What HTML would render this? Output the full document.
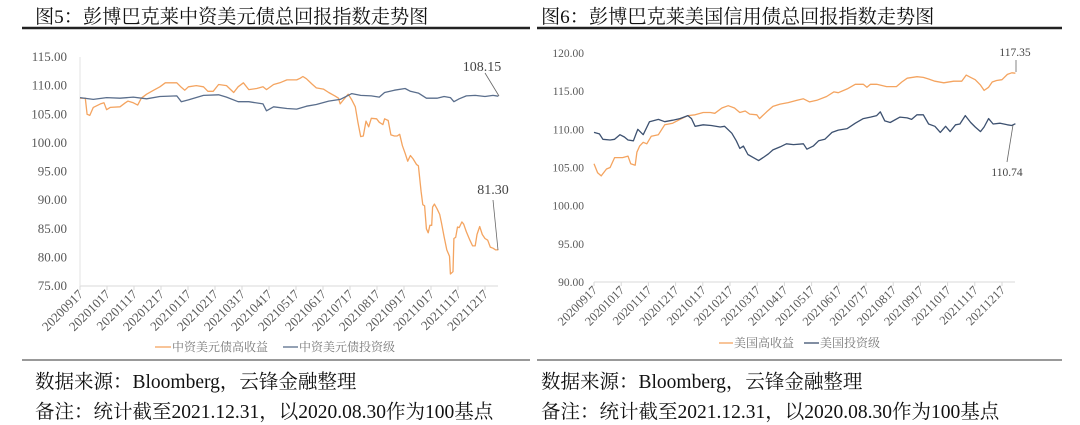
<!DOCTYPE html>
<html><head><meta charset="utf-8">
<style>
html,body{margin:0;padding:0;background:#fff;}
body{width:1080px;height:425px;overflow:hidden;position:relative;font-family:"Liberation Serif","Noto Serif CJK SC",serif;}
.t{position:absolute;font-size:19.5px;color:#111;white-space:nowrap;}
.h{font-size:19.2px;}
svg{position:absolute;left:0;top:0;}
</style></head>
<body>
<div class="t h" style="left:35px;top:2px;">图5：彭博巴克莱中资美元债总回报指数走势图</div>
<div class="t h" style="left:541px;top:2px;">图6：彭博巴克莱美国信用债总回报指数走势图</div>
<div class="t" style="left:35px;top:366px;">数据来源：Bloomberg，云锋金融整理</div>
<div class="t" style="left:35px;top:396px;">备注：统计截至2021.12.31，以2020.08.30作为100基点</div>
<div class="t" style="left:541px;top:366px;">数据来源：Bloomberg，云锋金融整理</div>
<div class="t" style="left:541px;top:396px;">备注：统计截至2021.12.31，以2020.08.30作为100基点</div>
<svg id="s" width="1080" height="425"></svg>
<script>
const tickLabels=["20200917","20201017","20201117","20201217","20210117","20210217","20210317","20210417","20210517","20210617","20210717","20210817","20210917","20211017","20211117","20211217"];
const c1Ticks=[75,80,85,90,95,100,105,110,115];
const c2Ticks=[90,95,100,105,110,115,120];
const cnHyDays=[0,6,8,11,15,23,27,30,34,45,51,54,60,65,69,75,83,90,96,109,114,118,122,131,139,144,150,156,165,173,178,184,190,199,206,210,218,225,233,244,248,251,255,261,266,274,280,287,291,293,296,302,306,310,313,316,319,322,325,328,334,337,341,343,347,350,354,357,360,363,366,369,372,375,379,381,384,386,388,390,392,394,396,397,399,402,405,407,410,413,416,417,420,421,423,425,427,430,432,435,439,442,445,447,450,453,456,459,462,465,468,471];
const cnHyVals=[107.8,107.8,105,104.8,106.2,106.8,107,105.8,106.2,106.3,107,107.3,107,106.6,107.8,108.5,109.2,109.8,110.5,110.5,109.7,109.2,109.8,110,109.8,109,109,110.2,110,108.8,109.8,110.5,109.3,109.5,109.8,109.3,110.2,110.5,111,111,111.3,111.6,111.2,110.3,109.6,109.4,108.8,108.2,107.8,106.8,107.4,108.5,107.5,106.3,103.5,101.1,101.2,103.8,102.8,104.3,104.2,103.6,103.2,104.2,103.9,101.4,101.2,101.2,101.5,99.5,98.2,96.8,97.8,97.2,96.2,96,91.5,89.2,89,85,84.3,85.6,85.6,88.8,89.3,88.5,87.5,86,83.6,81.3,80.2,77.1,77.5,83.3,83.5,85.3,85.2,86.2,85.8,84.5,83,82,82,84,85.4,84,83.3,83,81.8,81.6,81.3,81.3];
const cnIgDays=[0,15,30,45,60,75,90,109,114,122,139,156,165,178,190,206,210,218,233,244,255,266,280,293,306,316,328,337,343,354,366,372,381,390,402,410,417,421,427,435,445,456,465,471];
const cnIgVals=[107.9,107.6,107.9,107.8,108,107.7,108.1,108.2,107.2,107.5,108.3,108.4,108,107.2,107.2,106.8,105.6,106.3,106,105.9,106.4,106.7,107.3,107.6,108.6,108.3,108.2,108,108.8,109.2,109.5,109,108.7,107.8,107.8,108.1,107.9,107.2,107.7,108.2,108.3,108.1,108.3,108.15];
const usHyDays=[0,4,8,14,18,23,32,38,41,46,48,51,55,59,64,72,79,88,96,105,113,122,130,135,143,150,157,163,169,174,182,185,193,200,208,217,227,234,241,249,260,268,273,283,292,301,305,309,316,327,338,344,350,361,368,374,381,391,402,411,416,421,426,432,436,441,445,450,456,462,467,471];
const usHyVals=[105.5,104.3,103.9,104.8,105,106.3,106.3,106.5,105.5,105.3,107,107.8,108.3,108.1,109.1,109.3,110.6,110.8,111.3,111.8,111.9,112.2,112.2,112.1,112.8,113.1,112.8,112.2,112.4,112,111.9,111.4,112.3,113,113.3,113.5,113.8,114,113.6,113.8,114.3,114.9,114.8,115.3,115.9,115.9,115.5,115.9,115.9,115.6,115.6,116.2,116.7,116.9,116.8,116.6,116.3,116.1,116.3,116.3,117.1,116.8,116.5,115.8,115.1,115.5,116.2,116.4,116.5,117.2,117.4,117.35];
const usIgDays=[0,6,10,18,23,29,34,38,44,49,55,62,72,79,88,96,105,109,113,122,131,141,146,154,159,163,167,172,178,184,189,195,200,208,215,223,234,238,245,251,258,266,273,283,292,301,309,316,320,325,331,342,350,355,361,368,374,381,387,393,398,404,409,415,421,426,432,436,441,446,454,462,467,471];
const usIgVals=[109.6,109.4,108.7,108.6,108.7,109.3,109,108.6,108.5,110,109.3,111,111.3,111,111.2,111.4,111.8,111.4,110.4,110.6,110.5,110.3,110.4,109.5,108.5,107.5,107.8,106.7,106.3,105.9,106.3,106.8,107.3,107.7,108.1,108,108.1,107.4,107.8,108.5,108.7,109.6,109.9,110.1,110.8,111.4,111.6,111.8,112.3,111.1,110.9,111.6,111.5,111.3,111.9,111.9,110.7,110.4,109.6,110.4,109.7,110.6,110.7,111.8,110.9,110.3,109.7,110.3,111.4,110.7,110.8,110.6,110.5,110.74];

const NS="http://www.w3.org/2000/svg";
const svg=document.getElementById('s');
function mk(tag,attrs,txt){const e=document.createElementNS(NS,tag);for(const k in attrs)e.setAttribute(k,attrs[k]);if(txt!==undefined)e.textContent=txt;svg.appendChild(e);return e;}

let e;
e=mk('line',{x1:22,y1:28,x2:530,y2:28,stroke:'#222','stroke-width':2.5});


e=mk('line',{x1:537,y1:28,x2:1062,y2:28,stroke:'#222','stroke-width':2.5});


e=mk('line',{x1:22,y1:360,x2:530,y2:360,stroke:'#333','stroke-width':1});


e=mk('line',{x1:537,y1:360,x2:1062,y2:360,stroke:'#333','stroke-width':1});



function chart(cfg){
  const xs=d=>cfg.x0+d*(cfg.x1-cfg.x0)/456;
  const ys=v=>cfg.yTop+(cfg.vMax-v)*(cfg.yBot-cfg.yTop)/(cfg.vMax-cfg.vMin);
  let a=mk('line',{x1:cfg.x0,y1:cfg.yBot,x2:cfg.xEnd,y2:cfg.yBot,stroke:'#d9d9d9','stroke-width':1});
  
  
  if(cfg.yAxisLine){a=mk('line',{x1:cfg.x0,y1:cfg.yTop,x2:cfg.x0,y2:cfg.yBot,stroke:'#e3e3e3','stroke-width':1});
  
  }
  cfg.ticks.forEach(v=>{
    const t=mk('text',{x:cfg.x0-cfg.labGap,y:ys(v)+4,'text-anchor':'end','font-size':cfg.yfs,fill:'#595959'},v.toFixed(2));
    
    
  });
  tickLabels.forEach((lab,i)=>{
    const x=cfg.x0+i*(cfg.x1-cfg.x0)/15;
    const tk=mk('line',{x1:x,y1:cfg.yBot,x2:x,y2:cfg.yBot+4,stroke:'#d9d9d9'});
    
    
    const t=mk('text',{x:0,y:0,'text-anchor':'end','font-size':cfg.xfs,fill:'#595959',transform:`translate(${x+4},${cfg.yBot+9}) rotate(-45)`},lab);
    
    
  });
  cfg.series.forEach(s=>{
    const p=s.days.map((d,i)=>(i?'L':'M')+xs(d).toFixed(1)+','+ys(s.vals[i]).toFixed(1)).join('');
    const l=mk('path',{d:p,fill:'none',stroke:s.color,'stroke-width':1.3,'stroke-linejoin':'round'});
    
    
  });
}
chart({id:'chart5',x0:80,x1:485,xEnd:498,yTop:57,yBot:286,vMin:75,vMax:115,ticks:c1Ticks,labGap:13,yfs:13,xfs:13,yAxisLine:true,
  series:[{name:'cn-high-yield-line',days:cnHyDays,vals:cnHyVals,color:'#f4a460'},{name:'cn-investment-grade-line',days:cnIgDays,vals:cnIgVals,color:'#5a6e8c'}]});
chart({id:'chart6',x0:594,x1:1002,xEnd:1015,yTop:53,yBot:282,vMin:90,vMax:120,ticks:c2Ticks,labGap:10,yfs:11.5,xfs:12.5,yAxisLine:false,
  series:[{name:'us-high-yield-line',days:usHyDays,vals:usHyVals,color:'#f4a460'},{name:'us-investment-grade-line',days:usIgDays,vals:usIgVals,color:'#3d5170'}]});

function ann(name,tx,ty,txt,fs,x1,y1,x2,y2){
  let t=mk('text',{x:tx,y:ty,'font-size':fs,fill:'#444','text-anchor':'middle'},txt);
  
  
  let l=mk('line',{x1:x1,y1:y1,x2:x2,y2:y2,stroke:'#666','stroke-width':0.8});
  
  
}
ann('cn-ig-end',482,71,'108.15',14,485,73,499,96);
ann('cn-hy-end',493,194,'81.30',14,493,200,498,250);
ann('us-hy-end',1015,56,'117.35',11.5,1016,60,1016,72);
ann('us-ig-end',1007,176,'110.74',11.5,1007,162,1013,125);

function leg(name,x,y,w,color,txt){
  let l=mk('line',{x1:x,y1:y,x2:x+w,y2:y,stroke:color,'stroke-width':1.3});
  
  
  let t=mk('text',{x:x+w+1,y:y+4,'font-size':12,fill:'#777'},txt);
  
  
}
leg('legend-cn-high-yield',155,347,16,'#f4a460','中资美元债高收益');
leg('legend-cn-investment-grade',283,347,15,'#5a6e8c','中资美元债投资级');
leg('legend-us-high-yield',719,343,14,'#f4a460','美国高收益');
leg('legend-us-investment-grade',804,343,15,'#3d5170','美国投资级');
</script>
</body></html>
